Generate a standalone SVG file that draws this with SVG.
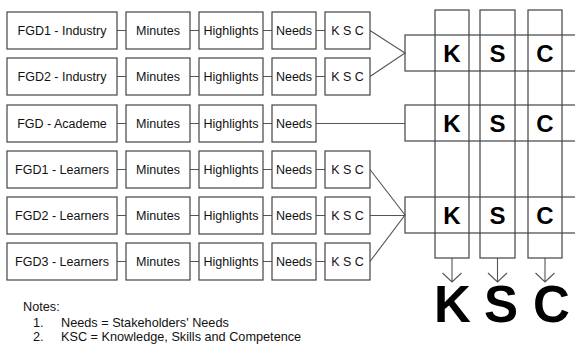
<svg xmlns="http://www.w3.org/2000/svg" width="575" height="344" viewBox="0 0 575 344">
<style>
.b{fill:#fff;stroke:#444;stroke-width:1.2}
.o{fill:none;stroke:#444;stroke-width:1.2}
.c{fill:none;stroke:#555;stroke-width:1.1}
.t{font-family:"Liberation Sans",Arial,sans-serif;font-size:12.5px;fill:#111;text-anchor:middle}
.n{font-family:"Liberation Sans",Arial,sans-serif;font-size:12.7px;fill:#111}
.k{font-family:"Liberation Sans",Arial,sans-serif;font-size:24px;font-weight:bold;fill:#000;text-anchor:middle}
.K{font-family:"Liberation Sans",Arial,sans-serif;font-size:51px;font-weight:bold;fill:#000;text-anchor:middle}
</style>
<g id="connectors">
<path class="c" d="M117,30.5H126M190,30.5H199M263,30.5H272M316,30.5H325"/>
<path class="c" d="M117,76.5H126M190,76.5H199M263,76.5H272M316,76.5H325"/>
<path class="c" d="M117,123.5H126M190,123.5H199M263,123.5H272M316,123.5H405"/>
<path class="c" d="M117,169.5H126M190,169.5H199M263,169.5H272M316,169.5H325"/>
<path class="c" d="M117,215.5H126M190,215.5H199M263,215.5H272M316,215.5H325"/>
<path class="c" d="M117,261.5H126M190,261.5H199M263,261.5H272M316,261.5H325"/>
<path class="c" d="M370,30.5L405,53L370,76.5"/>
<path class="c" d="M370,169.5L405,215L370,261.5M370,215.5H405"/>
<path class="c" d="M452,258V282M442.5,273L452,282L461.5,273"/>
<path class="c" d="M497.5,258V282M488,273L497.5,282L507,273"/>
<path class="c" d="M545,258V282M535.5,273L545,282L554.5,273"/>
</g>
<g id="row1"><rect class="b" x="7" y="12" width="110" height="37"/><text class="t" x="62" y="35">FGD1 - Industry</text>
<rect class="b" x="126" y="12" width="64" height="37"/><text class="t" x="158" y="35">Minutes</text>
<rect class="b" x="199" y="12" width="64" height="37"/><text class="t" x="231" y="35">Highlights</text>
<rect class="b" x="272" y="12" width="44" height="37"/><text class="t" x="294" y="35">Needs</text>
<rect class="b" x="325" y="12" width="45" height="37"/><text class="t" x="347.5" y="35">K S C</text></g>
<g id="row2"><rect class="b" x="7" y="58" width="110" height="37"/><text class="t" x="62" y="81">FGD2 - Industry</text>
<rect class="b" x="126" y="58" width="64" height="37"/><text class="t" x="158" y="81">Minutes</text>
<rect class="b" x="199" y="58" width="64" height="37"/><text class="t" x="231" y="81">Highlights</text>
<rect class="b" x="272" y="58" width="44" height="37"/><text class="t" x="294" y="81">Needs</text>
<rect class="b" x="325" y="58" width="45" height="37"/><text class="t" x="347.5" y="81">K S C</text></g>
<g id="row3"><rect class="b" x="7" y="105" width="110" height="37"/><text class="t" x="62" y="128">FGD - Academe</text>
<rect class="b" x="126" y="105" width="64" height="37"/><text class="t" x="158" y="128">Minutes</text>
<rect class="b" x="199" y="105" width="64" height="37"/><text class="t" x="231" y="128">Highlights</text>
<rect class="b" x="272" y="105" width="44" height="37"/><text class="t" x="294" y="128">Needs</text></g>
<g id="row4"><rect class="b" x="7" y="151" width="110" height="37"/><text class="t" x="62" y="174">FGD1 - Learners</text>
<rect class="b" x="126" y="151" width="64" height="37"/><text class="t" x="158" y="174">Minutes</text>
<rect class="b" x="199" y="151" width="64" height="37"/><text class="t" x="231" y="174">Highlights</text>
<rect class="b" x="272" y="151" width="44" height="37"/><text class="t" x="294" y="174">Needs</text>
<rect class="b" x="325" y="151" width="45" height="37"/><text class="t" x="347.5" y="174">K S C</text></g>
<g id="row5"><rect class="b" x="7" y="197" width="110" height="37"/><text class="t" x="62" y="220">FGD2 - Learners</text>
<rect class="b" x="126" y="197" width="64" height="37"/><text class="t" x="158" y="220">Minutes</text>
<rect class="b" x="199" y="197" width="64" height="37"/><text class="t" x="231" y="220">Highlights</text>
<rect class="b" x="272" y="197" width="44" height="37"/><text class="t" x="294" y="220">Needs</text>
<rect class="b" x="325" y="197" width="45" height="37"/><text class="t" x="347.5" y="220">K S C</text></g>
<g id="row6"><rect class="b" x="7" y="243" width="110" height="37"/><text class="t" x="62" y="266">FGD3 - Learners</text>
<rect class="b" x="126" y="243" width="64" height="37"/><text class="t" x="158" y="266">Minutes</text>
<rect class="b" x="199" y="243" width="64" height="37"/><text class="t" x="231" y="266">Highlights</text>
<rect class="b" x="272" y="243" width="44" height="37"/><text class="t" x="294" y="266">Needs</text>
<rect class="b" x="325" y="243" width="45" height="37"/><text class="t" x="347.5" y="266">K S C</text></g>
<g id="matrix">
<rect class="o" x="405" y="35" width="180" height="36"/>
<rect class="o" x="405" y="105" width="180" height="36"/>
<rect class="o" x="405" y="197" width="180" height="36"/>
<rect class="o" x="435" y="10" width="34" height="248"/>
<rect class="o" x="480" y="10" width="35" height="248"/>
<rect class="o" x="528" y="10" width="34" height="248"/>
<text class="k" x="452" y="62">K</text><text class="k" x="497.5" y="62">S</text><text class="k" x="545" y="62">C</text>
<text class="k" x="452" y="132">K</text><text class="k" x="497.5" y="132">S</text><text class="k" x="545" y="132">C</text>
<text class="k" x="452" y="224">K</text><text class="k" x="497.5" y="224">S</text><text class="k" x="545" y="224">C</text>
</g>
<g id="result">
<text class="K" x="452.5" y="322">K</text><text class="K" x="501" y="322">S</text><text class="K" x="551.5" y="322">C</text>
</g>
<g id="notes">
<text class="n" x="23" y="311">Notes:</text>
<text class="n" x="33" y="327">1.</text><text class="n" x="61" y="327">Needs = Stakeholders' Needs</text>
<text class="n" x="33" y="341">2.</text><text class="n" x="61" y="341">KSC = Knowledge, Skills and Competence</text>
</g>
</svg>
